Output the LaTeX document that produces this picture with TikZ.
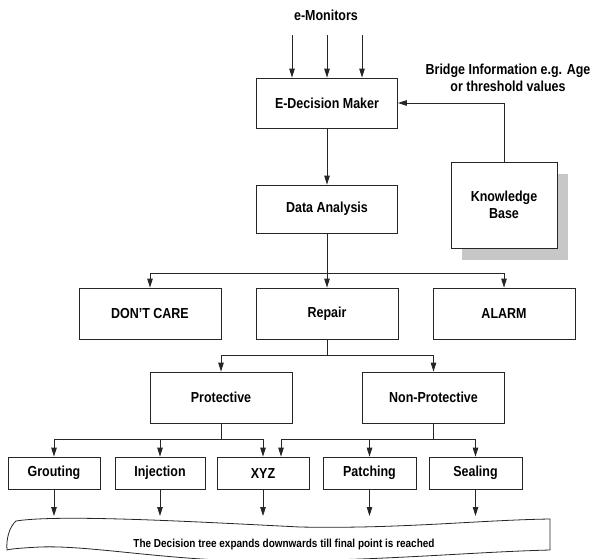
\documentclass[tikz,border=0pt]{standalone}
\usepackage{fontspec}
\setmainfont{Liberation Sans}[FakeStretch=0.86]
\usetikzlibrary{arrows.meta,shadows,calc}
\begin{document}
\begin{tikzpicture}[x=1pt,y=-1pt,
  box/.style={draw=black!85,line width=0.8pt,fill=white,inner sep=0pt,align=center,font=\fontsize{14.5}{17}\selectfont\bfseries},
  lbl/.style={inner sep=0pt,align=center,font=\fontsize{14.5}{17}\selectfont\bfseries},
  arr/.style={draw=black!85,line width=0.8pt,-{Triangle[length=9pt,width=5.5pt]}},
  ln/.style={draw=black!85,line width=0.8pt},
  big/.style={minimum width=142pt,minimum height=51pt},
  small/.style={minimum height=32pt}]
\useasboundingbox (0,0) rectangle (591,558);
% top part
\node[lbl] (emon) at (326,15) {e-Monitors};
\node[box,minimum width=141pt,minimum height=50pt] (edm) at (327,103) {E-Decision Maker};
\node[box,minimum width=141pt,minimum height=48pt] (da) at (327,209) {Data Analysis};
\node[box,minimum width=106pt,minimum height=86pt,
  drop shadow={shadow xshift=11pt,shadow yshift=-12pt,fill=black!22,opacity=1}] (kb) at (504,205) {Knowledge\\Base};
\node[lbl] (bridge) at (508,78) {Bridge Information e.g. Age\\or threshold values};
% row 1
\node[box,big] (dc) at (150,313.5) {DON'T CARE};
\node[box,big] (rep) at (327,313.5) {Repair};
\node[box,big] (alarm) at (504,313.5) {ALARM};
% row 2
\node[box,big] (prot) at (221,397.5) {Protective};
\node[box,big] (nonp) at (433.5,397.5) {Non-Protective};
% row 3
\node[box,small,minimum width=92pt] (grout) at (54,473) {Grouting};
\node[box,small,minimum width=90pt] (inj) at (160,473) {Injection};
\node[box,small,minimum width=92pt] (xyz) at (263,473) {XYZ};
\node[box,small,minimum width=93pt] (patch) at (369.5,473) {Patching};
\node[box,small,minimum width=93pt] (seal) at (475.5,473) {Sealing};
% connectors
\coordinate (m1) at (292,35);
\coordinate (m2) at (327,35);
\coordinate (m3) at (362,35);
\draw[arr] (m1) -- (m1 |- edm.north);
\draw[arr] (m2) -- (m2 |- edm.north);
\draw[arr] (m3) -- (m3 |- edm.north);
\draw[arr] (edm.south) -- (da.north);
\draw[arr] (kb.north) |- (edm.east);
\coordinate (b1) at (327,273);
\draw[ln] (da.south) -- (b1);
\draw[arr] (b1) -| (dc.north);
\draw[arr] (b1) -- (rep.north);
\draw[arr] (b1) -| (alarm.north);
\coordinate (b2) at (327,355);
\draw[ln] (rep.south) -- (b2);
\draw[arr] (b2) -| (prot.north);
\draw[arr] (b2) -| (nonp.north);
\coordinate (b3) at (221,439);
\draw[ln] (prot.south) -- (b3);
\draw[arr] (b3) -| (grout.north);
\draw[arr] (b3) -| (inj.north);
\draw[arr] (b3) -| (xyz.north);
\coordinate (b4) at (433.5,439);
\draw[ln] (nonp.south) -- (b4);
\draw[arr] (b4) -| ([xshift=18pt]xyz.north);
\draw[arr] (b4) -| (patch.north);
\draw[arr] (b4) -| (seal.north);
% tape
\coordinate (tt) at (0,516);
\draw[arr] (grout.south) -- (grout.south |- tt);
\draw[arr] (inj.south) -- (inj.south |- tt);
\draw[arr] (xyz.south) -- (xyz.south |- tt);
\draw[arr] (patch.south) -- (patch.south |- tt);
\draw[arr] (seal.south) -- (seal.south |- tt);
\draw[ln] (16,521) .. controls (60,514) and (200,522) .. (300,527)
  .. controls (400,529) and (480,520) .. (550,519)
  -- (550,550)
  .. controls (470,552) and (380,561) .. (260,561)
  .. controls (170,561) and (90,545) .. (40,547)
  .. controls (20,548) and (10,549) .. (7,550)
  .. controls (6,540) and (9,527) .. cycle;
\node[inner sep=0pt,font=\fontsize{11.6}{14}\selectfont\bfseries] (tape) at (284,544) {The Decision tree expands downwards till final point is reached};
\end{tikzpicture}
\end{document}
